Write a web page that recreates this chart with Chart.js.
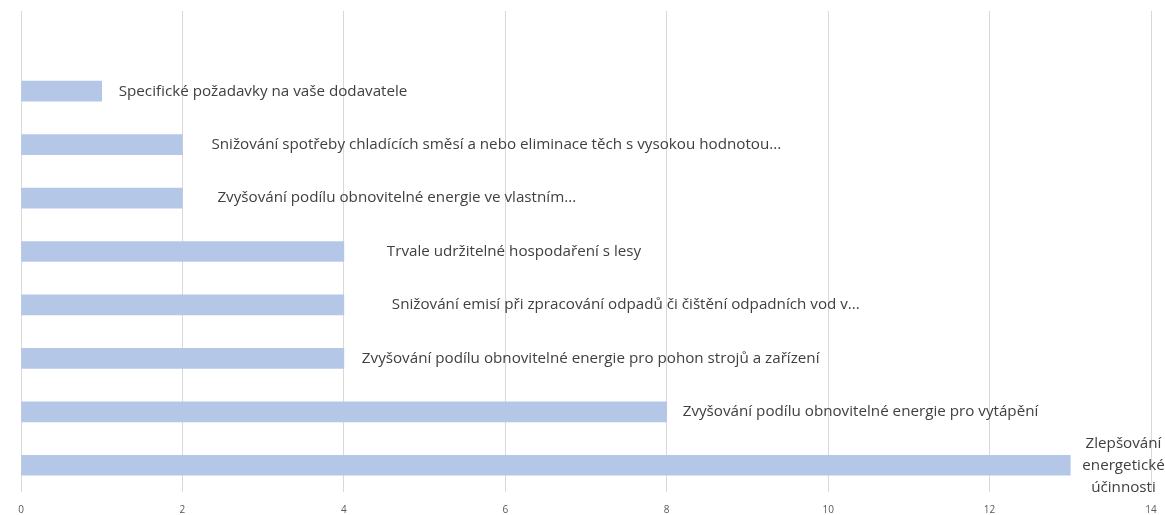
<!DOCTYPE html>
<html lang="cs">
<head>
    <meta charset="UTF-8">
    <title>Opatření</title>
    <script src="https://cdn.jsdelivr.net/npm/chart.js"></script>
    <style>
        html, body {
          margin: 0;
          padding: 0;
          background: #fff;
        }
        .wrap {
          width: 1165px;
          height: 515px;
        }
    </style>
</head>
<body>
<div class="wrap">
    <canvas id="barChart"></canvas>
</div>

<script>
    // kategorie shora dolů (první prázdná = volné místo nad grafem)
    const categories = [
      '',
      'Specifické požadavky na vaše dodavatele',
      'Snižování spotřeby chladících směsí a nebo eliminace těch s vysokou hodnotou...',
      'Zvyšování podílu obnovitelné energie ve vlastním...',
      'Trvale udržitelné hospodaření s lesy',
      'Snižování emisí při zpracování odpadů či čištění odpadních vod v...',
      'Zvyšování podílu obnovitelné energie pro pohon strojů a zařízení',
      'Zvyšování podílu obnovitelné energie pro vytápění',
      ['Zlepšování', 'energetické', 'účinnosti']
    ];
    const values = [null, 1, 2, 2, 4, 4, 4, 8, 13];
    const xMin = 0, xMax = 14, xStep = 2;

    // mezera mezi koncem sloupce a popiskem (px)
    const labelGaps = [0, 17, 29, 35, 43, 48, 18, 16, 12];

    const labelPlugin = {
      id: 'barLabels',
      afterDatasetsDraw(chart) {
        const ctx = chart.ctx;
        const meta = chart.getDatasetMeta(0);
        ctx.save();
        ctx.font = '15.2px "Open Sans"';
        ctx.fillStyle = '#404040';
        ctx.textBaseline = 'middle';
        meta.data.forEach((bar, i) => {
          if (values[i] == null) return;
          const text = categories[i];
          const x0 = bar.x + labelGaps[i];
          if (Array.isArray(text)) {
            const w = Math.max(...text.map(t => ctx.measureText(t).width));
            ctx.textAlign = 'center';
            const lh = 22;
            text.forEach((t, k) => {
              ctx.fillText(t, x0 + w / 2, bar.y + (k - (text.length - 1) / 2) * lh);
            });
          } else {
            ctx.textAlign = 'left';
            ctx.fillText(text, x0, bar.y);
          }
        });
        ctx.restore();
      }
    };

    Chart.defaults.font.family = '"Open Sans", sans-serif';

    new Chart(document.getElementById('barChart'), {
      type: 'bar',
      data: {
        labels: categories,
        datasets: [{
          data: values,
          backgroundColor: '#b4c7e7',
          barThickness: 20
        }]
      },
      options: {
        indexAxis: 'y',
        responsive: true,
        maintainAspectRatio: false,
        animation: false,
        layout: {
          padding: { left: 21, right: 14, top: 11, bottom: 0 }
        },
        plugins: {
          legend: { display: false },
          tooltip: { enabled: false }
        },
        scales: {
          x: {
            min: xMin,
            max: xMax,
            ticks: {
              stepSize: xStep,
              padding: -1,
              color: '#595959',
              font: { size: 10 }
            },
            grid: {
              color: '#d9d9d9',
              drawTicks: true,
              tickLength: 13,
              tickColor: 'rgba(0,0,0,0)'
            },
            border: { display: false }
          },
          y: {
            display: false
          }
        }
      },
      plugins: [labelPlugin]
    });
</script>
</body>
</html>
